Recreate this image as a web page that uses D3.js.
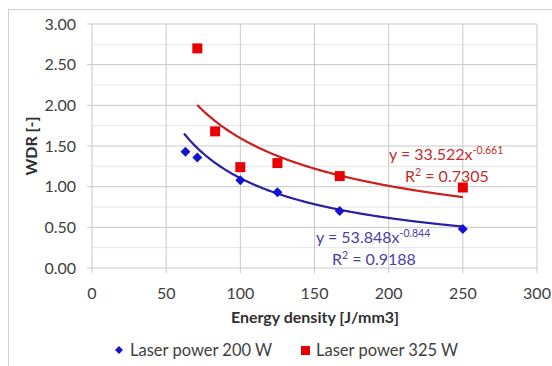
<!DOCTYPE html>
<html>
<head>
<meta charset="utf-8">
<script src="https://cdn.jsdelivr.net/npm/d3@7"></script>
<style>
  body { margin: 0; background: #fff; }
  svg { font-family: Lato, "Open Sans", sans-serif; }
</style>
</head>
<body>
<svg id="chart"></svg>
<script>
const width = 552;
const height = 366;

// series data
const energy200 = [63, 71, 100, 125, 167, 250];
const wdr200 = [1.43, 1.36, 1.08, 0.93, 0.70, 0.48];
const energy325 = [71, 83, 100, 125, 167, 250];
const wdr325 = [2.70, 1.68, 1.24, 1.29, 1.13, 0.99];

// power-law trend lines (from the chart labels)
const fit200 = {a: 53.848, b: -0.844, r2: "0.9188", from: 62, to: 250};
const fit325 = {a: 33.522, b: -0.661, r2: "0.7305", from: 71, to: 250};

const xTicks = [0, 50, 100, 150, 200, 250, 300];
const yTicks = [0, 0.5, 1, 1.5, 2, 2.5, 3];
const yMinor = [0.25, 0.75, 1.25, 1.75, 2.25, 2.75];
const legendLabels = ["Laser power 200 W", "Laser power 325 W"];

const blue = "#1414d0";
const blueLine = "#2a20a0";
const blueText = "#4a40a8";
const red = "#e80000";
const redLine = "#cc1f1f";
const redText = "#c42c2c";

const svg = d3.select("#chart")
    .attr("width", width)
    .attr("height", height);

// outer chart border
svg.append("rect")
    .attr("x", 8.5).attr("y", 9.5)
    .attr("width", 560).attr("height", 400)
    .attr("fill", "none")
    .attr("stroke", "#d0d0d0");

const x = d3.scaleLinear().domain([0, 300]).range([92, 537]);
const y = d3.scaleLinear().domain([0, 3]).range([268, 24]);

// gridlines
svg.append("g").selectAll("line")
    .data(yMinor)
  .enter().append("line")
    .attr("x1", x(0)).attr("x2", x(300))
    .attr("y1", d => y(d)).attr("y2", d => y(d))
    .attr("stroke", "#e6e6e6");

svg.append("g").selectAll("line")
    .data(yTicks)
  .enter().append("line")
    .attr("x1", x(0) - 5).attr("x2", x(300))
    .attr("y1", d => y(d)).attr("y2", d => y(d))
    .attr("stroke", "#c8c8c8");

svg.append("g").selectAll("line")
    .data(xTicks)
  .enter().append("line")
    .attr("x1", d => x(d)).attr("x2", d => x(d))
    .attr("y1", y(3)).attr("y2", y(0) + 5)
    .attr("stroke", "#c8c8c8");

// tick labels
svg.append("g").selectAll("text")
    .data(yTicks)
  .enter().append("text")
    .attr("x", 76)
    .attr("y", d => y(d))
    .attr("dy", "0.35em")
    .attr("text-anchor", "end")
    .attr("font-size", 16)
    .attr("fill", "#404040")
    .text(d => d3.format(".2f")(d));

svg.append("g").selectAll("text")
    .data(xTicks)
  .enter().append("text")
    .attr("x", d => x(d))
    .attr("y", 293)
    .attr("dy", "0.35em")
    .attr("text-anchor", "middle")
    .attr("font-size", 16)
    .attr("fill", "#404040")
    .text(d => d);

// axis titles
svg.append("text")
    .attr("x", 315)
    .attr("y", 317)
    .attr("dy", "0.35em")
    .attr("text-anchor", "middle")
    .attr("font-size", 16)
    .attr("font-weight", "bold")
    .attr("fill", "#303030")
    .text("Energy density [J/mm3]");

svg.append("text")
    .attr("transform", `translate(31,${y(1.5)}) rotate(-90)`)
    .attr("dy", "0.35em")
    .attr("text-anchor", "middle")
    .attr("font-size", 16)
    .attr("font-weight", "bold")
    .attr("fill", "#303030")
    .text("WDR [-]");

// trend lines
function trend(fit) {
  const xs = d3.range(fit.from, fit.to + 0.5, 1);
  return xs.map(v => [v, fit.a * Math.pow(v, fit.b)]);
}
const line = d3.line().x(d => x(d[0])).y(d => y(d[1])).curve(d3.curveMonotoneX);

svg.append("path")
    .attr("d", line(trend(fit325)))
    .attr("fill", "none")
    .attr("stroke", redLine)
    .attr("stroke-width", 2.2);

svg.append("path")
    .attr("d", line(trend(fit200)))
    .attr("fill", "none")
    .attr("stroke", blueLine)
    .attr("stroke-width", 2.2);

// markers (diamond = square turned 45 degrees)
const diamond = s => `M0,${-s}L${s},0L0,${s}L${-s},0Z`;
svg.append("g").selectAll("path")
    .data(energy200.map((e, i) => [e, wdr200[i]]))
  .enter().append("path")
    .attr("transform", d => `translate(${x(d[0])},${y(d[1])})`)
    .attr("d", diamond(5))
    .attr("fill", blue);

svg.append("g").selectAll("rect")
    .data(energy325.map((e, i) => [e, wdr325[i]]))
  .enter().append("rect")
    .attr("x", d => x(d[0]) - 5)
    .attr("y", d => y(d[1]) - 5)
    .attr("width", 10).attr("height", 10)
    .attr("fill", red);

// equation labels
function equation(fit, color, ex, ey) {
  const t = svg.append("text")
      .attr("x", ex).attr("y", ey)
      .attr("font-size", 16)
      .attr("fill", color);
  t.append("tspan").text(`y = ${fit.a}x`);
  t.append("tspan")
      .attr("dy", -6)
      .attr("font-size", 10.5)
      .text(fit.b.toFixed(3));
  const r = svg.append("text")
      .attr("x", ex + 16).attr("y", ey + 22)
      .attr("font-size", 16)
      .attr("fill", color);
  r.append("tspan").text("R");
  r.append("tspan").attr("dy", -6).attr("font-size", 10.5).text("2");
  r.append("tspan").attr("dy", 6).text(` = ${fit.r2}`);
}
equation(fit325, redText, 389, 160);
equation(fit200, blueText, 316, 243);

// legend
const legend = svg.append("g");
legend.append("path")
    .attr("transform", "translate(119,350)")
    .attr("d", diamond(4))
    .attr("fill", blue);
legend.append("text")
    .attr("x", 130).attr("y", 350)
    .attr("dy", "0.35em")
    .attr("font-size", 16.5)
    .attr("fill", "#404040")
    .text(legendLabels[0]);
legend.append("rect")
    .attr("x", 301).attr("y", 346)
    .attr("width", 9).attr("height", 9)
    .attr("fill", red);
legend.append("text")
    .attr("x", 316).attr("y", 350)
    .attr("dy", "0.35em")
    .attr("font-size", 16.5)
    .attr("fill", "#404040")
    .text(legendLabels[1]);
</script>
</body>
</html>
